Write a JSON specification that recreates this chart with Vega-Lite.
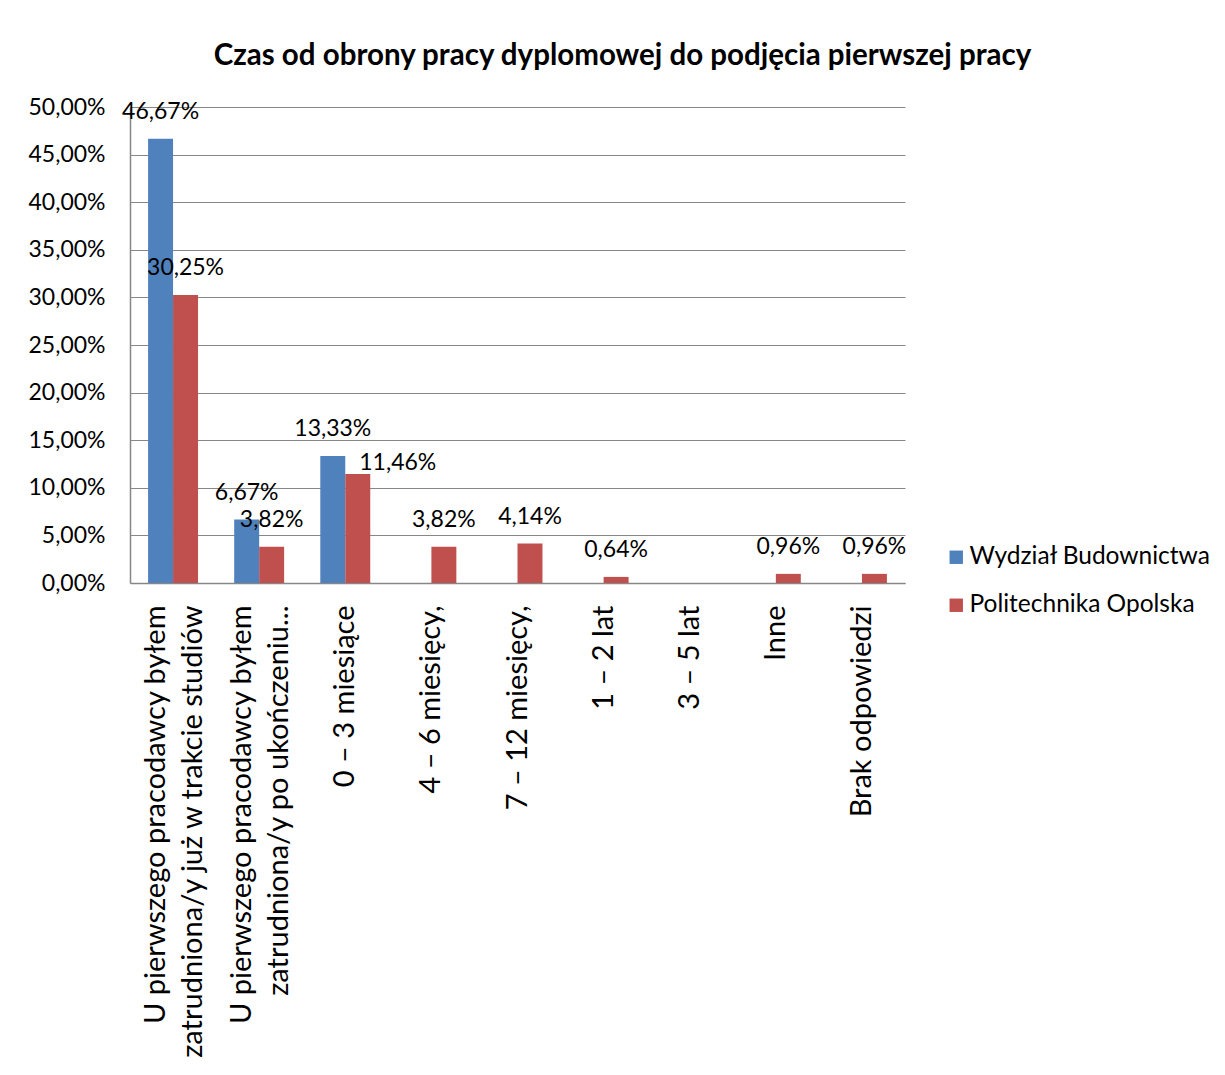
{
  "$schema": "https://vega.github.io/schema/vega-lite/v6.json",
  "autosize": "none",
  "width": 775,
  "height": 476,
  "padding": {"left": 130, "top": 107, "right": 320, "bottom": 492},
  "background": "white",
  "config": {
    "font": "Lato",
    "locale": {"number": {"decimal": ",", "thousands": " ", "grouping": [3], "currency": ["", " zł"]}},
    "view": {"stroke": null}
  },
  "title": {
    "text": "Czas od obrony pracy dyplomowej do podjęcia pierwszej pracy",
    "font": "Lato",
    "fontSize": 29.5,
    "fontWeight": "bold",
    "color": "black",
    "anchor": "middle",
    "frame": "group",
    "dx": 105,
    "offset": 25
  },
  "data": {
    "values": [
      {"kategoria": "U pierwszego pracodawcy byłem\nzatrudniona/y już w trakcie studiów", "seria": "Wydział Budownictwa", "wartosc": 0.4667},
      {"kategoria": "U pierwszego pracodawcy byłem\nzatrudniona/y już w trakcie studiów", "seria": "Politechnika Opolska", "wartosc": 0.3025},
      {"kategoria": "U pierwszego pracodawcy byłem\nzatrudniona/y po ukończeniu...", "seria": "Wydział Budownictwa", "wartosc": 0.0667},
      {"kategoria": "U pierwszego pracodawcy byłem\nzatrudniona/y po ukończeniu...", "seria": "Politechnika Opolska", "wartosc": 0.0382},
      {"kategoria": "0 – 3 miesiące", "seria": "Wydział Budownictwa", "wartosc": 0.1333},
      {"kategoria": "0 – 3 miesiące", "seria": "Politechnika Opolska", "wartosc": 0.1146},
      {"kategoria": "4 – 6 miesięcy,", "seria": "Politechnika Opolska", "wartosc": 0.0382},
      {"kategoria": "7 – 12 miesięcy,", "seria": "Politechnika Opolska", "wartosc": 0.0414},
      {"kategoria": "1 – 2 lat", "seria": "Politechnika Opolska", "wartosc": 0.0064},
      {"kategoria": "Inne", "seria": "Politechnika Opolska", "wartosc": 0.0096},
      {"kategoria": "Brak odpowiedzi", "seria": "Politechnika Opolska", "wartosc": 0.0096}
    ]
  },
  "encoding": {
    "x": {
      "field": "kategoria",
      "type": "nominal",
      "sort": null,
      "scale": {
        "domain": [
          "U pierwszego pracodawcy byłem\nzatrudniona/y już w trakcie studiów",
          "U pierwszego pracodawcy byłem\nzatrudniona/y po ukończeniu...",
          "0 – 3 miesiące",
          "4 – 6 miesięcy,",
          "7 – 12 miesięcy,",
          "1 – 2 lat",
          "3 – 5 lat",
          "Inne",
          "Brak odpowiedzi"
        ],
        "paddingInner": 0.42,
        "paddingOuter": 0.21
      },
      "axis": {
        "title": null,
        "labelAngle": -90,
        "labelAlign": "right",
        "labelBaseline": "middle",
        "labelExpr": "split(datum.label, '\\n')",
        "labelLineHeight": 37,
        "labelFontSize": 29,
        "labelColor": "black",
        "labelPadding": 22,
        "labelOffset": {"condition": {"test": "indexof(datum.value, '\\n') >= 0", "value": -17}, "value": 0},
        "labelLimit": 700,
        "ticks": false,
        "domainColor": "#878787",
        "domainWidth": 1.5,
        "grid": false
      }
    },
    "xOffset": {
      "field": "seria",
      "type": "nominal",
      "scale": {"domain": ["Wydział Budownictwa", "Politechnika Opolska"]}
    },
    "y": {
      "field": "wartosc",
      "type": "quantitative",
      "scale": {"domain": [0, 0.5], "nice": false},
      "axis": {
        "title": null,
        "format": ".2%",
        "values": [0, 0.05, 0.1, 0.15, 0.2, 0.25, 0.3, 0.35, 0.4, 0.45, 0.5],
        "labelFontSize": 23,
        "labelColor": "black",
        "labelPadding": 25,
        "ticks": false,
        "domainColor": "#878787",
        "domainWidth": 1.5,
        "gridColor": "#878787",
        "gridWidth": 1.2
      }
    }
  },
  "layer": [
    {
      "mark": {"type": "bar"},
      "encoding": {
        "color": {
          "field": "seria",
          "type": "nominal",
          "scale": {"domain": ["Wydział Budownictwa", "Politechnika Opolska"], "range": ["#4F81BD", "#C0504D"]},
          "legend": {
            "title": null,
            "orient": "none",
            "legendX": 814,
            "legendY": 438,
            "symbolType": "square",
            "symbolSize": 180,
            "symbolStrokeWidth": 0,
            "labelFontSize": 24.5,
            "labelColor": "black",
            "labelOffset": 1,
            "rowPadding": 23,
            "labelLimit": 400
          }
        }
      }
    },
    {
      "transform": [{"filter": "!(datum.kategoria == '0 – 3 miesiące' && datum.seria == 'Politechnika Opolska')"}],
      "mark": {"type": "text", "baseline": "middle", "dy": -27, "fontSize": 23, "color": "black"},
      "encoding": {
        "text": {"field": "wartosc", "type": "quantitative", "format": ".2%"}
      }
    },
    {
      "transform": [{"filter": "datum.kategoria == '0 – 3 miesiące' && datum.seria == 'Politechnika Opolska'"}],
      "mark": {"type": "text", "baseline": "middle", "dx": 40, "dy": -11, "fontSize": 23, "color": "black"},
      "encoding": {
        "text": {"field": "wartosc", "type": "quantitative", "format": ".2%"}
      }
    }
  ]
}
